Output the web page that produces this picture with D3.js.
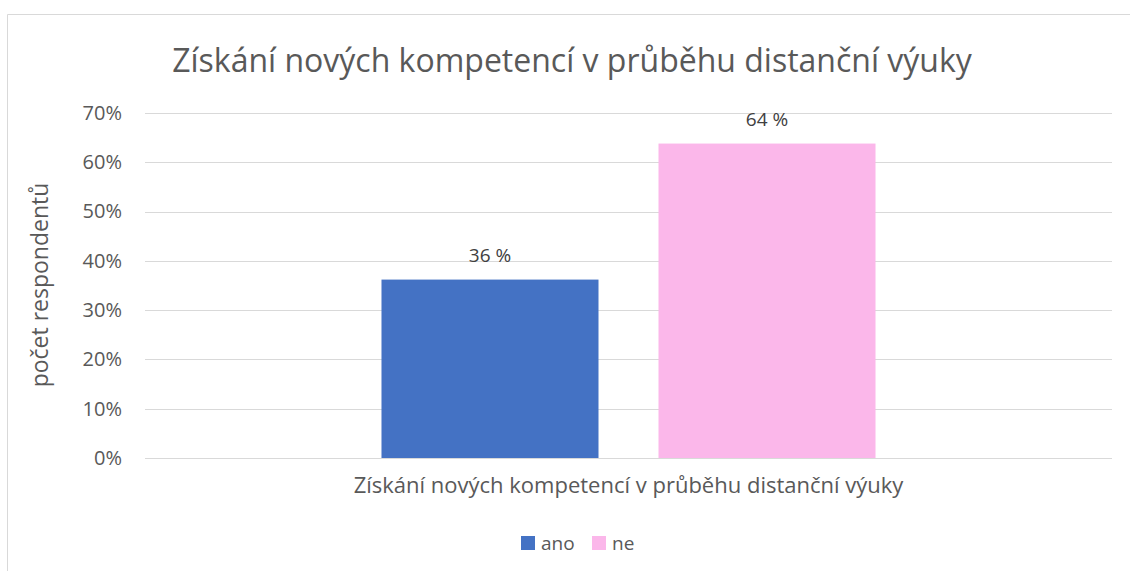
<!DOCTYPE html>
<html lang="cs">
<head>
<meta charset="utf-8">
<title>Získání nových kompetencí</title>
<script src="https://d3js.org/d3.v7.min.js"></script>
<style>
  body { margin: 0; background: #fff; }
  text { font-family: "Open Sans", "Noto Sans", sans-serif; }
</style>
</head>
<body>
<script>
// data
var categories = ["Získání nových kompetencí v průběhu distanční výuky"];
var seriesNames = ["ano", "ne"];
var seriesValues = [36.2, 63.8];
var valueLabels = ["36 %", "64 %"];
var yTicks = [0, 10, 20, 30, 40, 50, 60, 70];
var colors = ["#4472C4", "#FBB7EA"];

var w = 1130, h = 571;
var plotLeft = 145, plotRight = 1112, plotTop = 113, plotBottom = 458;

var svg = d3.select("body").append("svg")
  .attr("width", w).attr("height", h);

// chart frame
svg.append("path")
  .attr("d", "M7.5," + h + "V14.5H" + w)
  .attr("fill", "none").attr("stroke", "#d9d9d9").attr("stroke-width", 1);

svg.append("text")
  .attr("x", 572).attr("y", 72)
  .attr("text-anchor", "middle")
  .attr("font-size", "32px").attr("fill", "#595959")
  .text("Získání nových kompetencí v průběhu distanční výuky");

var y = d3.scaleLinear().domain([0, 70]).range([plotBottom, plotTop]);
var x0 = d3.scaleBand().domain(categories).range([plotLeft, plotRight])
  .paddingInner(0).paddingOuter(0.4787);
var x1 = d3.scaleBand().domain(seriesNames).range([0, x0.bandwidth()])
  .paddingInner(0.2166).paddingOuter(0);

// gridlines
svg.append("g").selectAll("line").data(yTicks).enter().append("line")
  .attr("x1", plotLeft).attr("x2", plotRight)
  .attr("y1", function(d) { return Math.round(y(d)) + 0.5; })
  .attr("y2", function(d) { return Math.round(y(d)) + 0.5; })
  .attr("stroke", "#d9d9d9").attr("stroke-width", 1);

// y axis labels
var yAxis = d3.axisLeft(y).tickValues(yTicks)
  .tickFormat(function(d) { return d + "%"; }).tickSize(0).tickPadding(0);
var gy = svg.append("g").attr("transform", "translate(122,0)").call(yAxis);
gy.select(".domain").remove();
gy.selectAll("text").attr("font-size", "20px").attr("fill", "#595959");

// bars
var g = svg.append("g").attr("transform", "translate(" + x0(categories[0]) + ",0)");
g.selectAll("rect").data(seriesValues).enter().append("rect")
  .attr("x", function(d, i) { return x1(seriesNames[i]); })
  .attr("width", x1.bandwidth())
  .attr("y", function(d) { return y(d); })
  .attr("height", function(d) { return y(0) - y(d); })
  .attr("fill", function(d, i) { return colors[i]; });

g.selectAll("text.lbl").data(seriesValues).enter().append("text")
  .attr("class", "lbl")
  .attr("x", function(d, i) { return x1(seriesNames[i]) + x1.bandwidth() / 2; })
  .attr("y", function(d) { return y(d) - 18; })
  .attr("text-anchor", "middle")
  .attr("font-size", "19px").attr("fill", "#404040")
  .text(function(d, i) { return valueLabels[i]; });

// x axis category label
var xAxis = d3.axisBottom(x0).tickSize(0).tickPadding(0);
var gx = svg.append("g").attr("transform", "translate(0,477)").call(xAxis);
gx.select(".domain").remove();
gx.selectAll("text").attr("font-size", "22px").attr("fill", "#595959");

// y axis title
svg.append("text")
  .attr("transform", "translate(48,285) rotate(-90)")
  .attr("text-anchor", "middle")
  .attr("font-size", "23px").attr("fill", "#595959")
  .text("počet respondentů");

// legend
var leg = svg.append("g").selectAll("g").data(seriesNames).enter().append("g")
  .attr("transform", function(d, i) { return "translate(" + [521, 592][i] + ",536)"; });
leg.append("rect").attr("width", 14).attr("height", 14)
  .attr("fill", function(d, i) { return colors[i]; });
leg.append("text").attr("x", 20).attr("y", 14)
  .attr("font-size", "19px").attr("fill", "#595959")
  .text(function(d) { return d; });
</script>
</body>
</html>
